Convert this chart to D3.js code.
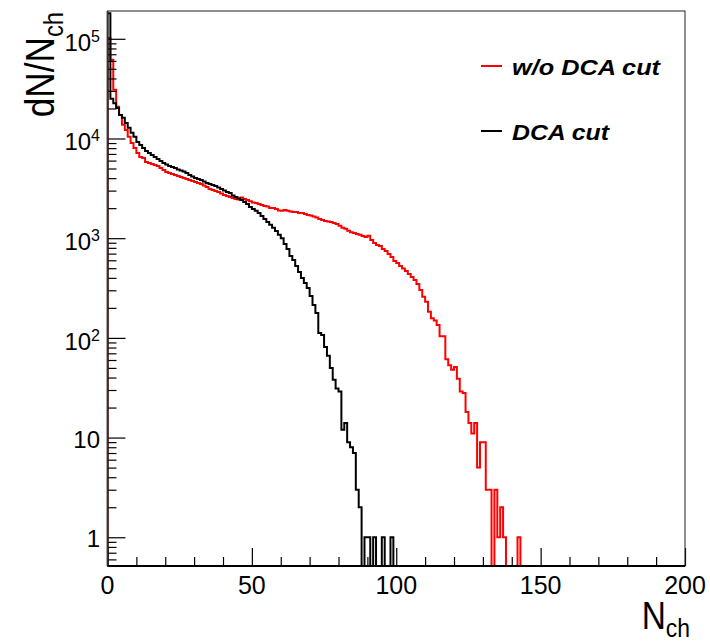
<!DOCTYPE html>
<html>
<head>
<meta charset="utf-8">
<script src="https://cdn.jsdelivr.net/npm/d3@7"></script>
<style>
  html, body { margin: 0; padding: 0; background: #fff; }
  svg { display: block; font-family: "Liberation Sans", Arial, Helvetica, sans-serif; }
</style>
</head>
<body>
<svg id="chart" width="710" height="643"></svg>
<script>
// ---- data: N_ch bins of width 1 starting at 0 ----
const binStart = 0;
const binWidth = 1;
// w/o DCA cut (red)
const noCutCounts = [
  102000, 61500, 30800, 20800, 17200, 13700, 12200, 10400, 9020, 8040,
  7160, 6530, 6380, 5820, 5690, 5560, 5430, 5300, 5060, 4830,
  4610, 4510, 4400, 4300, 4210, 4110, 4010, 3920, 3830, 3750,
  3660, 3580, 3500, 3380, 3260, 3110, 3040, 2970, 2910, 2810,
  2710, 2650, 2590, 2530, 2470, 2440, 2560, 2470, 2420, 2340,
  2280, 2250, 2200, 2150, 2100, 2080, 2010, 2010, 1960, 1900,
  1880, 1920, 1880, 1850, 1830, 1830, 1790, 1790, 1750, 1710,
  1690, 1650, 1610, 1560, 1520, 1490, 1470, 1450, 1420, 1390,
  1330, 1270, 1240, 1190, 1150, 1130, 1100, 1080, 1050, 1030,
  1060, 960, 895, 855, 835, 780, 745, 695, 648, 591,
  564, 526, 497, 469, 437, 408, 381, 348, 303, 259,
  231, 183, 157, 149, 135, 104, 104, 61, 53, 48,
  51, 39, 29, 28, 18, 14, 11, 14, 5, 9,
  9, 3, 3, 0, 3, 1, 2, 1, 0, 0,
  0, 0, 1
];
// DCA cut (black)
const dcaCutCounts = [
  180000, 25000, 22600, 20200, 17200, 16100, 14300, 12800, 11400, 10400,
  9230, 8610, 8040, 7500, 7160, 6840, 6530, 6240, 5960, 5690,
  5490, 5300, 5180, 5060, 4890, 4780, 4670, 4510, 4300, 4160,
  4010, 3920, 3830, 3700, 3580, 3500, 3420, 3340, 3220, 3110,
  3010, 2910, 2840, 2680, 2590, 2500, 2420, 2310, 2200, 2060,
  1960, 1880, 1790, 1670, 1560, 1450, 1360, 1270, 1180, 1080,
  1000, 875, 780, 663, 604, 526, 458, 399, 356, 317,
  263, 214, 178, 112, 107, 81, 66, 50, 38, 31,
  29, 12, 14, 9, 8, 7, 3, 2, 0, 1,
  1, 0, 1, 0, 0, 1, 0, 0, 1
];
const seriesNames = ["w/o DCA cut", "DCA cut"];
const seriesColors = ["#ff0000", "#000000"];
const xMajorTicks = [0, 50, 100, 150, 200];
const xMinorTicks = [10, 20, 30, 40, 60, 70, 80, 90, 110, 120, 130, 140, 160, 170, 180, 190];
const yMajorTicks = [1, 10, 100, 1000, 10000, 100000];
const yMajorLabels = [["1", ""], ["10", ""], ["10", "2"], ["10", "3"], ["10", "4"], ["10", "5"]];
const yMinorTicks = [0.6, 0.7, 0.8, 0.9,
  2, 3, 4, 5, 6, 7, 8, 9,
  20, 30, 40, 50, 60, 70, 80, 90,
  200, 300, 400, 500, 600, 700, 800, 900,
  2000, 3000, 4000, 5000, 6000, 7000, 8000, 9000,
  20000, 30000, 40000, 50000, 60000, 70000, 80000, 90000];

// ---- layout ----
const L = 107.5, R = 685, T = 11, B = 566;
const svg = d3.select("#chart");
const x = d3.scaleLinear().domain([0, 200]).range([L, R]);
const y = d3.scaleLog().domain([0.515, 1.9e5]).range([B, T]);

svg.append("defs").append("clipPath").attr("id", "plotclip")
  .append("rect").attr("x", L).attr("y", T).attr("width", R - L).attr("height", B - T);

// histogram step paths
function stepPath(counts) {
  let last = counts.length - 1;
  while (last > 0 && counts[last] <= 0) last--;
  const p = d3.path();
  p.moveTo(x(binStart), B);
  for (let i = 0; i <= last; i++) {
    const x0 = x(binStart + i * binWidth), x1 = x(binStart + (i + 1) * binWidth);
    const yy = counts[i] > 0 ? y(counts[i]) : B + 2;
    p.lineTo(x0, yy);
    p.lineTo(x1, yy);
  }
  p.lineTo(x(binStart + (last + 1) * binWidth), B + 2);
  return p.toString();
}

const plot = svg.append("g").attr("clip-path", "url(#plotclip)");
[noCutCounts, dcaCutCounts].forEach((c, k) => {
  plot.append("path").attr("d", stepPath(c))
    .attr("fill", "none").attr("stroke", seriesColors[k])
    .attr("stroke-width", 2).attr("stroke-linejoin", "miter");
});

// axes ticks
function styleAxis(g) {
  g.select(".domain").remove();
  g.selectAll(".tick line").attr("stroke", "#000").attr("stroke-width", 1.2);
}
svg.append("g").attr("transform", `translate(${L},0)`)
  .call(d3.axisLeft(y).tickValues(yMajorTicks).tickSize(-18).tickFormat(""))
  .call(styleAxis);
svg.append("g").attr("transform", `translate(${L},0)`)
  .call(d3.axisLeft(y).tickValues(yMinorTicks).tickSize(-9).tickFormat(""))
  .call(styleAxis);
svg.append("g").attr("transform", `translate(0,${B})`)
  .call(d3.axisBottom(x).tickValues(xMajorTicks).tickSize(-18).tickFormat(""))
  .call(styleAxis);
svg.append("g").attr("transform", `translate(0,${B})`)
  .call(d3.axisBottom(x).tickValues(xMinorTicks).tickSize(-9).tickFormat(""))
  .call(styleAxis);

// frame
svg.append("rect").attr("x", L).attr("y", T).attr("width", R - L).attr("height", B - T)
  .attr("fill", "none").attr("stroke", "#222").attr("stroke-width", 1);
svg.append("line").attr("x1", L).attr("x2", L).attr("y1", T).attr("y2", B)
  .attr("stroke", "#333").attr("stroke-width", 1.8);
svg.append("line").attr("x1", L).attr("x2", R).attr("y1", B).attr("y2", B)
  .attr("stroke", "#000").attr("stroke-width", 2);

// y tick labels
yMajorTicks.forEach((v, i) => {
  const [base, sup] = yMajorLabels[i];
  const t = svg.append("text").attr("x", 100).attr("y", y(v) + (sup ? 12 : 10))
    .attr("text-anchor", "end").attr("font-size", 24).attr("fill", "#000");
  t.append("tspan").text(base);
  if (sup) t.append("tspan").attr("font-size", 16).attr("dy", -9).text(sup);
});
// x tick labels
xMajorTicks.forEach(v => {
  svg.append("text").attr("x", x(v)).attr("y", 594)
    .attr("text-anchor", "middle").attr("font-size", 25).attr("fill", "#000").text(v);
});

// axis titles (glyphs slightly condensed like the original)
const xt = svg.append("text").attr("transform", "translate(690,629) scale(0.88,1)")
  .attr("text-anchor", "end").attr("font-size", 38).attr("fill", "#000");
xt.append("tspan").text("N");
xt.append("tspan").attr("font-size", 26).attr("dy", 8).text("ch");

const yt = svg.append("text").attr("transform", "translate(54,12) rotate(-90) scale(0.88,1)")
  .attr("text-anchor", "end").attr("font-size", 40).attr("fill", "#000");
yt.append("tspan").text("dN/N");
yt.append("tspan").attr("font-size", 27).attr("dy", 9).text("ch");

// legend
const legY = [66, 131];
const legWidths = [148, 97];
seriesNames.forEach((name, k) => {
  svg.append("line").attr("x1", 481).attr("x2", 502).attr("y1", legY[k]).attr("y2", legY[k])
    .attr("stroke", seriesColors[k]).attr("stroke-width", 2);
  svg.append("text").attr("x", 512).attr("y", legY[k] + 9)
    .attr("font-size", 22).attr("font-weight", "bold").attr("font-style", "italic")
    .attr("textLength", legWidths[k]).attr("lengthAdjust", "spacingAndGlyphs")
    .attr("fill", "#000").text(name);
});
</script>
</body>
</html>
